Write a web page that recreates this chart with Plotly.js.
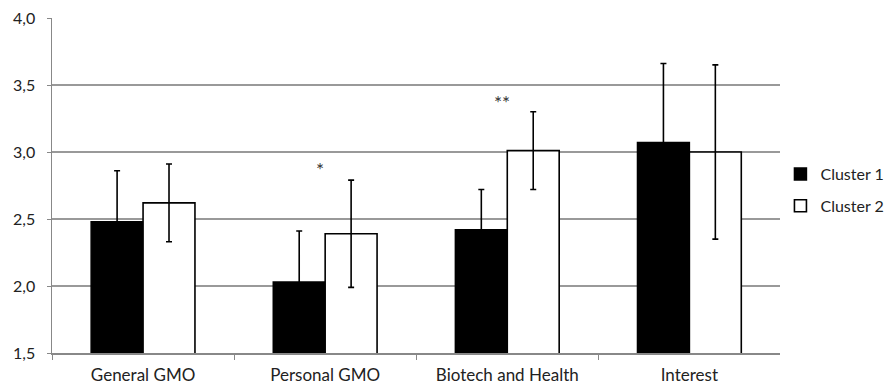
<!DOCTYPE html>
<html>
<head>
<meta charset="utf-8">
<script src="https://cdn.plot.ly/plotly-3.0.1.min.js"></script>
<style>html,body{margin:0;padding:0;background:#fff;}#chart{width:895px;height:384px;}</style>
</head>
<body>
<div id="chart"></div>
<script>
const categories = ["General GMO", "Personal GMO", "Biotech and Health", "Interest"];
const cluster1 = [2.48, 2.03, 2.42, 3.07];
const cluster1Err = [0.38, 0.38, 0.30, 0.59];
const cluster2 = [2.62, 2.39, 3.01, 3.00];
const cluster2Err = [0.29, 0.40, 0.29, 0.65];
const markLabels = ["*", "**"];
const markCats = ["Personal GMO", "Biotech and Health"];
const markY = [2.87, 3.37];

const font = "Lato, 'Open Sans', sans-serif";
const traces = [
  {
    type: "bar", name: "Cluster 1", x: categories, y: cluster1,
    marker: {color: "#000", line: {color: "#000", width: 1.5}},
    error_y: {type: "data", array: cluster1Err, visible: true, color: "#000", thickness: 1.6, width: 3},
    legendgroup: "a"
  },
  {
    type: "bar", name: "Cluster 2", x: categories, y: cluster2,
    marker: {color: "#fff", line: {color: "#000", width: 1.6}},
    error_y: {type: "data", array: cluster2Err, visible: true, color: "#000", thickness: 1.6, width: 3},
    legendgroup: "b"
  }
];

const annotations = markLabels.map((t, i) => ({
  x: markCats[i], y: markY[i], xref: "x", yref: "y", text: t, showarrow: false,
  xshift: -5, font: {family: font, size: 19, color: "#333"}
}));

const layout = {
  width: 895, height: 384,
  margin: {l: 52, r: 114, t: 17.5, b: 31.3},
  paper_bgcolor: "#fff", plot_bgcolor: "#fff",
  separators: ", ",
  font: {family: font, size: 16, color: "#222"},
  barmode: "group", bargap: 0.43, bargroupgap: 0,
  showlegend: true,
  legend: {xref: "container", yref: "container", x: 0.872, y: 0.505, xanchor: "left", yanchor: "middle",
    traceorder: "grouped", tracegroupgap: 8,
    font: {family: font, size: 16, color: "#222"}, bgcolor: "rgba(0,0,0,0)", itemwidth: 30},
  xaxis: {
    type: "category", showline: true, linecolor: "#888", linewidth: 1.5,
    ticks: "outside", tickson: "boundaries", ticklen: 5, tickcolor: "#888", tickwidth: 1,
    showgrid: false, tickfont: {family: font, size: 17, color: "#222"}, ticklabelstandoff: 6
  },
  yaxis: {
    range: [1.5, 4.0], dtick: 0.5, tick0: 1.5, tickformat: ".1f",
    showline: true, linecolor: "#888", linewidth: 1.5,
    ticks: "outside", ticklen: 4, tickcolor: "#888",
    showgrid: true, gridcolor: "#999", gridwidth: 1.2, zeroline: false,
    tickfont: {family: font, size: 16, color: "#222"}, ticklabelstandoff: 8
  },
  annotations: annotations
};

Plotly.newPlot("chart", traces, layout, {displayModeBar: false, staticPlot: true});
</script>
</body>
</html>
